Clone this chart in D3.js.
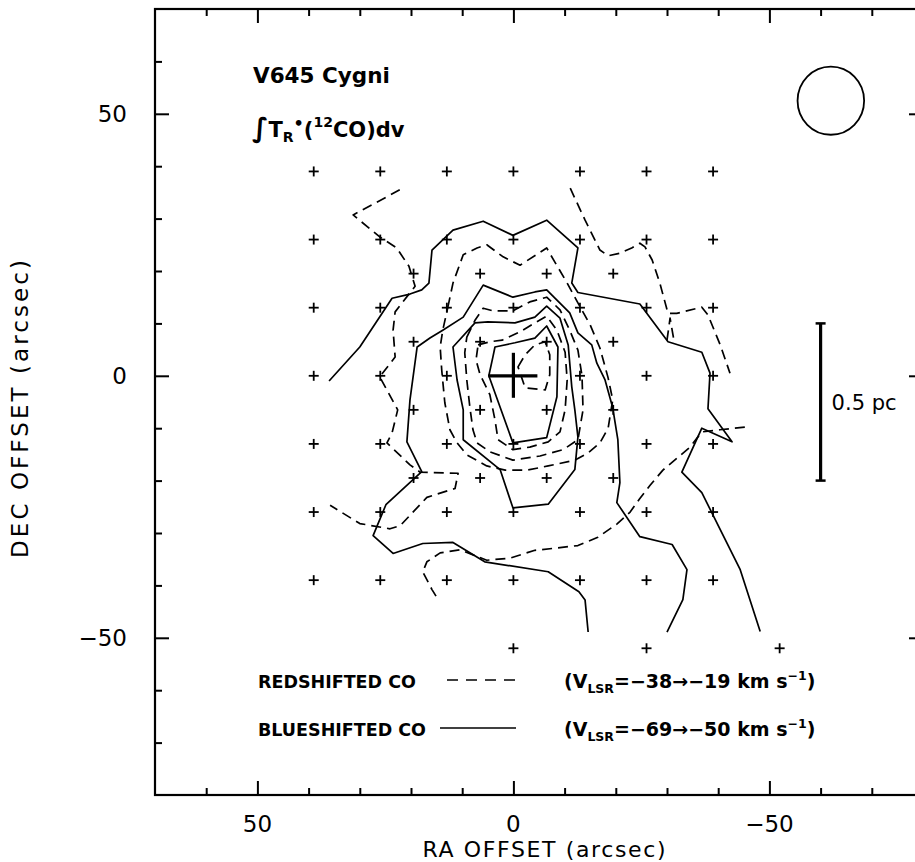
<!DOCTYPE html>
<html>
<head>
<meta charset="utf-8">
<script src="https://cdn.jsdelivr.net/npm/d3@7"></script>
<style>
body { margin: 0; background: #fff; }
</style>
</head>
<body>
<script>
// axis ticks (arcsec)
var raMajor = [50, 0, -50];
var raMinor = [60, 40, 30, 20, 10, -10, -20, -30, -40, -60, -70];
var decMajor = [50, 0, -50];
var decMinor = [60, 40, 30, 20, 10, -10, -20, -30, -40, -60, -70];

// observed map positions [RA offset, DEC offset]
var mapPoints = [
    [39, 39], [26, 39], [13, 39], [0, 39], [-13, 39], [-26, 39], [-39, 39],
    [39, 26], [26, 26], [13, 26], [0, 26], [-13, 26], [-26, 26], [-39, 26],
    [19.5, 19.5], [6.5, 19.5], [-6.5, 19.5], [-19.5, 19.5],
    [39, 13], [26, 13], [13, 13], [0, 13], [-13, 13], [-26, 13], [-39, 13],
    [19.5, 6.5], [6.5, 6.5], [-6.5, 6.5], [-19.5, 6.5],
    [39, 0], [26, 0], [13, 0], [-13, 0], [-26, 0], [-39, 0],
    [19.5, -6.5], [6.5, -6.5], [-6.5, -6.5], [-19.5, -6.5],
    [39, -13], [26, -13], [13, -13], [0, -13], [-13, -13], [-26, -13], [-39, -13],
    [19.5, -19.5], [6.5, -19.5], [-6.5, -19.5], [-19.5, -19.5],
    [39, -26], [26, -26], [13, -26], [0, -26], [-13, -26], [-26, -26], [-39, -26],
    [39, -39], [26, -39], [13, -39], [0, -39], [-13, -39], [-26, -39], [-39, -39],
    [0, -52], [-26, -52], [-52, -52]
];

var star = [0, 0];
var beam = { ra: -62, dec: 52.5, radius: 6.5 };
var scaleBar = { ra: -60, from: 10, to: -20, label: "0.5 pc" };

// blueshifted CO contours (solid)
var blueOuter = [[36.0, -1.0], [30.0, 5.5], [23.7, 14.8], [20.2, 15.6], [17.9, 16.4], [16.5, 17.7], [15.9, 24.0],
    [11.8, 27.8], [5.9, 29.5], [0.1, 26.8], [-6.5, 29.7], [-12.6, 24.4], [-11.4, 17.7], [-12.6, 15.9],
    [-24.7, 13.7], [-30.2, 6.5], [-36.8, 4.5], [-38.4, 0.5], [-38.0, -6.3], [-42.7, -12.6], [-36.8, -10.0],
    [-32.9, -18.4], [-36.8, -22.3], [-44.3, -37.0], [-48.2, -48.8]];
var blueMiddle = [[-14.6, -48.9], [-14.0, -42.8], [-12.8, -41.2], [-6.8, -37.4], [5.6, -35.5], [11.8, -31.8],
    [17.7, -32.0], [23.5, -33.9], [27.4, -30.5], [24.9, -24.6], [17.9, -18.3], [20.8, -12.6], [20.2, -4.6],
    [18.8, 5.5], [16.3, 7.2], [13.8, 8.7], [9.8, 11.2], [5.9, 17.3], [0.1, 15.0], [-4.2, 16.0], [-6.5, 16.4],
    [-11.0, 12.0], [-12.6, 8.2], [-15.3, 5.9], [-16.3, 2.4], [-17.9, -0.8], [-19.4, -6.1], [-20.4, -12.2],
    [-20.8, -20.4], [-20.2, -24.2], [-24.7, -30.7], [-31.0, -32.2], [-33.9, -37.0], [-33.1, -42.7], [-30.0, -48.9]];
var blueInner = [[11.8, 5.5], [7.5, 10.1], [5.0, 10.3], [-0.3, 10.1], [-4.2, 11.2], [-6.5, 13.3], [-9.1, 11.0],
    [-10.7, 5.9], [-11.4, -2.1], [-12.0, -6.5], [-12.6, -11.7], [-12.0, -17.9], [-6.8, -24.5], [0.1, -25.2],
    [2.6, -17.9], [9.8, -12.2], [9.8, -6.5], [11.0, -0.8]];
var blueCore = [[3.6, 5.5], [-0.3, 6.3], [-4.2, 7.2], [-6.5, 9.5], [-8.7, 5.5], [-8.5, -4.0], [-6.5, -11.8],
    [0.1, -12.8], [4.8, 0], [4.0, 3.6]];

// redshifted CO contours (dashed)
var redWest = [[22.2, 35.5], [31.3, 30.7], [26.1, 26.5], [22.8, 24.4], [20.4, 20.9], [19.2, 17.1], [23.1, 12.2],
    [23.5, 8.7], [23.1, 3.6], [26.1, -0.2], [22.6, -6.5], [23.7, -10.9], [24.7, -12.8], [20.2, -17.0],
    [18.2, -18.4], [10.8, -18.6], [11.4, -21.5], [16.9, -23.2], [22.1, -28.6], [24.1, -29.2], [30.0, -28.2],
    [35.8, -24.7]];
var redRing1 = [[12.8, 13.1], [11.8, 17.7], [9.8, 23.1], [7.1, 24.4], [5.2, 25.0], [2.0, 22.7], [-1.3, 21.1],
    [-6.5, 24.4], [-8.1, 21.7], [-10.5, 17.7], [-12.6, 13.9], [-15.0, 9.7], [-16.9, 5.3], [-18.5, -0.4],
    [-19.4, -4.6], [-18.5, -10.0], [-16.9, -12.8], [-14.6, -14.7], [-12.0, -16.1], [-6.8, -17.2], [-2.7, -18.0],
    [1.6, -18.0], [5.2, -17.2], [9.1, -15.1], [11.0, -12.8], [12.4, -10.3], [13.4, -5.1], [14.0, 1.1],
    [14.3, 5.5], [13.8, 8.7]];
var redRing2 = [[9.1, 7.4], [7.5, 10.6], [5.9, 12.9], [4.0, 12.4], [0.1, 12.4], [-3.2, 14.1], [-6.5, 15.0],
    [-9.1, 12.6], [-11.0, 8.7], [-12.6, 4.9], [-13.4, 0], [-13.6, -6.5], [-12.6, -12.2], [-9.7, -14.1],
    [-5.2, -15.3], [0.1, -16.1], [4.6, -14.5], [7.1, -12.8], [7.9, -10.3], [8.5, -6.0], [9.1, -0.8], [9.5, 4.4]];
var redRing3 = [[6.9, 5.9], [4.6, 6.5], [2.2, 6.8], [-1.3, 8.4], [-4.2, 10.1], [-6.5, 11.4], [-8.5, 8.7],
    [-10.1, 4.5], [-10.5, -0.8], [-10.1, -6.5], [-9.1, -10.7], [-6.8, -12.6], [-3.2, -13.6], [0.1, -14.1],
    [3.0, -12.2], [3.6, -8.4], [4.6, -3.6], [6.5, 0.2], [7.3, 3.0]];
var redPeak = [[-0.9, 1.7], [-2.3, 4.0], [-4.2, 5.9], [-6.2, 6.5], [-7.1, 4.0], [-7.1, 0.2], [-6.2, -2.7], [-2.3, -2.3]];
var redNorthEast = [[-11.1, 35.8], [-14.0, 29.7], [-16.9, 24.0], [-18.5, 22.9], [-20.8, 23.4], [-23.1, 24.4],
    [-24.7, 25.3], [-25.7, 24.6], [-27.1, 22.1], [-28.6, 17.7], [-30.2, 11.9], [-31.9, 11.9], [-36.8, 13.1],
    [-38.0, 11.6], [-40.4, 5.9], [-42.3, 0.5]];
var redSpur = [[-30.0, 6.8], [-30.6, 11.0], [-31.4, 6.5]];
var redSouth = [[-45.2, -9.8], [-40.3, -10.3], [-36.8, -10.7], [-34.5, -13.6], [-31.5, -16.1], [-29.2, -18.0],
    [-26.7, -20.9], [-24.7, -23.4], [-22.8, -26.0], [-20.2, -28.3], [-16.5, -30.8], [-12.6, -32.4], [-8.1, -32.9],
    [-4.2, -33.3], [0.7, -34.8], [5.2, -35.2], [10.4, -33.2], [14.3, -33.8], [16.9, -35.5], [17.7, -37.4],
    [15.9, -40.8], [14.7, -42.7]];

var solidOpen = [blueOuter, blueMiddle];
var solidClosed = [blueInner, blueCore];
var dashedOpen = [redWest, redNorthEast, redSpur, redSouth];
var dashedClosed = [redRing1, redRing2, redRing3, redPeak];

(function () {
    var width = 915;
    var height = 862;
    var m = { left: 155, right: 923, top: 9, bottom: 795 };
    var font = "'DejaVu Sans', sans-serif";

    var svg = d3.select("body").append("svg")
        .attr("width", width)
        .attr("height", height);

    var x = d3.scaleLinear().domain([70, -80]).range([m.left, m.right]);
    var y = d3.scaleLinear().domain([70, -80]).range([m.top, m.bottom]);

    // ticks, all pointing inward
    function ticks(axisFn, scale, values, size, pos) {
        svg.append("g")
            .attr("transform", pos)
            .call(axisFn(scale).tickValues(values).tickSize(size).tickSizeOuter(0).tickFormat(""))
            .call(g => g.select(".domain").remove())
            .call(g => g.selectAll("line").attr("stroke", "#000").attr("stroke-width", 2));
    }
    ticks(d3.axisBottom, x, raMinor, -7, "translate(0," + m.bottom + ")");
    ticks(d3.axisBottom, x, raMajor, -14, "translate(0," + m.bottom + ")");
    ticks(d3.axisTop, x, raMinor, -7, "translate(0," + m.top + ")");
    ticks(d3.axisTop, x, raMajor, -14, "translate(0," + m.top + ")");
    ticks(d3.axisLeft, y, decMinor, -7, "translate(" + m.left + ",0)");
    ticks(d3.axisLeft, y, decMajor, -14, "translate(" + m.left + ",0)");
    ticks(d3.axisRight, y, decMinor, -7, "translate(" + m.right + ",0)");
    ticks(d3.axisRight, y, decMajor, -14, "translate(" + m.right + ",0)");

    function fmt(d) { return d < 0 ? "\u2212" + Math.abs(d) : String(d); }

    svg.append("g").selectAll("text")
        .data(raMajor)
        .enter()
        .append("text")
        .attr("x", d => x(d))
        .attr("y", 832)
        .attr("text-anchor", "middle")
        .style("font-family", font)
        .style("font-size", "23px")
        .text(fmt);

    svg.append("g").selectAll("text")
        .data(decMajor)
        .enter()
        .append("text")
        .attr("x", 127)
        .attr("y", d => y(d))
        .attr("dy", "0.36em")
        .attr("text-anchor", "end")
        .style("font-family", font)
        .style("font-size", "23px")
        .text(fmt);

    svg.append("text")
        .attr("x", 544)
        .attr("y", 857)
        .attr("text-anchor", "middle")
        .attr("textLength", 243)
        .style("font-family", font)
        .style("font-size", "22px")
        .text("RA OFFSET (arcsec)");

    svg.append("text")
        .attr("transform", "translate(28,409) rotate(-90)")
        .attr("text-anchor", "middle")
        .attr("textLength", 298)
        .style("font-family", font)
        .style("font-size", "23px")
        .text("DEC OFFSET (arcsec)");

    // frame
    svg.append("rect")
        .attr("x", m.left).attr("y", m.top)
        .attr("width", m.right - m.left).attr("height", m.bottom - m.top)
        .attr("fill", "none")
        .attr("stroke", "#000")
        .attr("stroke-width", 2.2);

    var line = d3.line().x(d => x(d[0])).y(d => y(d[1]));
    var loop = d3.line().x(d => x(d[0])).y(d => y(d[1])).curve(d3.curveLinearClosed);

    function contours(list, gen, dash) {
        svg.append("g").selectAll("path")
            .data(list)
            .enter()
            .append("path")
            .attr("d", gen)
            .attr("fill", "none")
            .attr("stroke", "#000")
            .attr("stroke-width", 1.7)
            .attr("stroke-linejoin", "round")
            .attr("stroke-dasharray", dash);
    }
    contours(solidOpen, line, null);
    contours(solidClosed, loop, null);
    contours(dashedOpen, line, "10,6");
    contours(dashedClosed, loop, "10,6");

    // map positions
    var plus = svg.append("g").selectAll("g")
        .data(mapPoints)
        .enter()
        .append("g")
        .attr("transform", d => "translate(" + x(d[0]) + "," + y(d[1]) + ")");
    plus.append("line").attr("x1", -5).attr("x2", 5).attr("stroke", "#000").attr("stroke-width", 1.8);
    plus.append("line").attr("y1", -5).attr("y2", 5).attr("stroke", "#000").attr("stroke-width", 1.8);

    // V645 Cyg position
    var st = svg.append("g").attr("transform", "translate(" + x(star[0]) + "," + y(star[1]) + ")");
    st.append("line").attr("x1", -25).attr("x2", 24).attr("stroke", "#000").attr("stroke-width", 3.2);
    st.append("line").attr("y1", -23).attr("y2", 22).attr("stroke", "#000").attr("stroke-width", 3.2);

    // beam
    svg.append("ellipse")
        .attr("cx", x(beam.ra))
        .attr("cy", y(beam.dec))
        .attr("rx", x(0) - x(beam.radius))
        .attr("ry", y(0) - y(beam.radius))
        .attr("fill", "none")
        .attr("stroke", "#000")
        .attr("stroke-width", 1.8);

    // scale bar
    var sbx = x(scaleBar.ra);
    svg.append("line").attr("x1", sbx).attr("x2", sbx).attr("y1", y(scaleBar.from)).attr("y2", y(scaleBar.to))
        .attr("stroke", "#000").attr("stroke-width", 3.2);
    [scaleBar.from, scaleBar.to].forEach(v => {
        svg.append("line").attr("x1", sbx - 5).attr("x2", sbx + 5).attr("y1", y(v)).attr("y2", y(v))
            .attr("stroke", "#000").attr("stroke-width", 2.5);
    });
    svg.append("text")
        .attr("x", sbx + 11)
        .attr("y", 410)
        .style("font-family", font)
        .style("font-size", "21px")
        .text(scaleBar.label);

    // titles
    svg.append("text")
        .attr("x", 253).attr("y", 83)
        .style("font-family", font).style("font-size", "21.5px").style("font-weight", "bold")
        .text("V645 Cygni");

    var t2 = svg.append("text")
        .attr("x", 252).attr("y", 137)
        .style("font-family", font).style("font-size", "21px").style("font-weight", "bold");
    t2.append("tspan").style("font-size", "27px").text("\u222B");
    t2.append("tspan").text("T");
    t2.append("tspan").attr("dy", 5).style("font-size", "14px").text("R");
    t2.append("tspan").attr("dy", -13).style("font-size", "16px").text("\u2022");
    t2.append("tspan").attr("dy", 8).text("(");
    t2.append("tspan").attr("dy", -10).style("font-size", "14px").text("12");
    t2.append("tspan").attr("dy", 10).text("CO)dv");

    // legend
    var legend = [
        { name: "REDSHIFTED CO", dash: "11,8", y: 688, from: "\u221238", to: "\u221219", x1: 447 },
        { name: "BLUESHIFTED CO", dash: null, y: 736, from: "\u221269", to: "\u221250", x1: 440 }
    ];
    legend.forEach(l => {
        svg.append("text")
            .attr("x", 258).attr("y", l.y)
            .style("font-family", font).style("font-size", "17.5px").style("font-weight", "bold")
            .text(l.name);
        svg.append("line")
            .attr("x1", l.x1).attr("x2", 516).attr("y1", l.y - 8).attr("y2", l.y - 8)
            .attr("stroke", "#000").attr("stroke-width", 1.7)
            .attr("stroke-dasharray", l.dash);
        var t = svg.append("text")
            .attr("x", 564).attr("y", l.y)
            .style("font-family", font).style("font-size", "19px").style("font-weight", "bold");
        t.append("tspan").text("(V");
        t.append("tspan").attr("dy", 5).style("font-size", "12.5px").text("LSR");
        t.append("tspan").attr("dy", -5).text("=" + l.from + "\u2192" + l.to + " km s");
        t.append("tspan").attr("dy", -8).style("font-size", "12.5px").text("\u22121");
        t.append("tspan").attr("dy", 8).text(")");
    });
})();
</script>
</body>
</html>
